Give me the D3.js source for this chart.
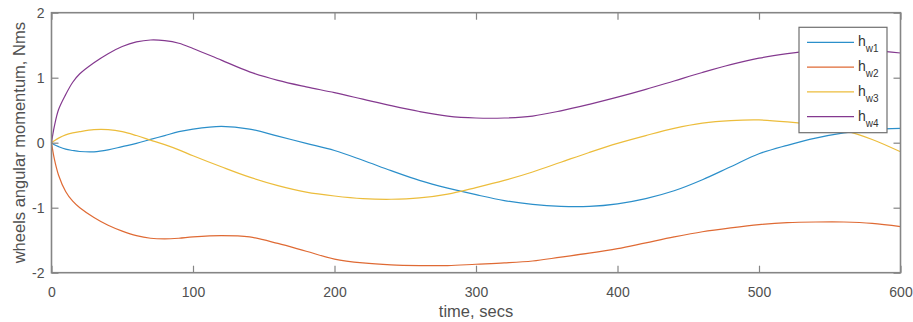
<!DOCTYPE html>
<html>
<head>
<meta charset="utf-8">
<script src="https://cdn.jsdelivr.net/npm/d3@7"></script>
<style>
  body { margin: 0; background: #fff; }
  svg { display: block; font-family: "Liberation Sans", Arial, sans-serif; }
</style>
</head>
<body>
<svg id="chart"></svg>
<script>
/* ---------- data ---------- */
const time = [0, 2, 5, 10, 15, 20, 30, 40, 50, 60, 70, 80, 90, 100, 120, 140, 160, 180, 200,
              220, 240, 260, 280, 300, 320, 340, 360, 380, 400, 420, 440, 460, 480, 500,
              520, 540, 560, 580, 600];

const hw1 = [0, -0.03, -0.06, -0.10, -0.12, -0.135, -0.14, -0.11, -0.06, -0.01, 0.05, 0.11, 0.17, 0.21,
             0.25, 0.21, 0.10, -0.01, -0.12, -0.27, -0.43, -0.58, -0.70, -0.80, -0.89, -0.95,
             -0.98, -0.98, -0.94, -0.86, -0.74, -0.57, -0.37, -0.17, -0.04, 0.07, 0.15, 0.20, 0.22];

const hw2 = [0, -0.25, -0.50, -0.75, -0.90, -1.00, -1.15, -1.27, -1.36, -1.43, -1.47, -1.48, -1.47, -1.45,
             -1.43, -1.45, -1.55, -1.67, -1.79, -1.85, -1.88, -1.89, -1.89, -1.87, -1.85, -1.82,
             -1.76, -1.70, -1.63, -1.54, -1.45, -1.37, -1.31, -1.26, -1.23, -1.22, -1.22, -1.24, -1.29];

const hw3 = [0, 0.03, 0.07, 0.12, 0.15, 0.17, 0.20, 0.20, 0.17, 0.11, 0.04, -0.03, -0.11, -0.20,
             -0.37, -0.53, -0.66, -0.76, -0.82, -0.86, -0.87, -0.85, -0.79, -0.69, -0.58, -0.45,
             -0.30, -0.15, -0.01, 0.11, 0.22, 0.30, 0.34, 0.35, 0.32, 0.27, 0.19, 0.05, -0.14];

const hw4 = [0, 0.25, 0.51, 0.74, 0.93, 1.06, 1.23, 1.37, 1.48, 1.55, 1.58, 1.57, 1.53, 1.45,
             1.27, 1.09, 0.96, 0.86, 0.77, 0.67, 0.57, 0.48, 0.41, 0.38, 0.38, 0.41,
             0.49, 0.59, 0.70, 0.82, 0.95, 1.08, 1.20, 1.30, 1.37, 1.42, 1.44, 1.42, 1.38];

const seriesNames = ["w1", "w2", "w3", "w4"];
const seriesValues = [hw1, hw2, hw3, hw4];
const xTicks = [0, 100, 200, 300, 400, 500, 600];
const yTicks = [-2, -1, 0, 1, 2];

/* ---------- setup ---------- */
const width = 913, height = 322;
const box = { left: 51.5, right: 900.5, top: 12.7, bottom: 272.7 };

const svg = d3.select("#chart").attr("width", width).attr("height", height);

const x = d3.scaleLinear().domain([0, 600]).range([box.left, box.right]);
const y = d3.scaleLinear().domain([-2, 2]).range([box.bottom, box.top]);

const color = d3.scaleOrdinal()
  .domain(seriesNames)
  .range(["#2b8fca", "#df6a34", "#ecbd3c", "#84398f"]);

const axisColor = "#858585", textColor = "#505050";

/* ---------- lines ---------- */
const line = d3.line()
  .x((d, i) => x(time[i]))
  .y(d => y(d))
  .curve(d3.curveCatmullRom.alpha(0.5));

svg.append("g").selectAll("path")
  .data(seriesValues).enter().append("path")
    .attr("fill", "none")
    .attr("stroke", (d, i) => color(seriesNames[i]))
    .attr("stroke-width", 1.2)
    .attr("d", line);

/* ---------- axes (inward ticks, box on) ---------- */
const fmt = d => String(d);

function styleAxis(g) {
  g.select(".domain").remove();
  g.selectAll(".tick line").attr("stroke", axisColor).attr("stroke-width", 1.2);
  g.selectAll(".tick text").attr("fill", textColor).attr("font-size", 14)
    .attr("font-family", "Liberation Sans, Arial, sans-serif");
}

svg.append("g")
  .attr("transform", `translate(0,${box.bottom})`)
  .call(d3.axisBottom(x).tickValues(xTicks).tickSize(-7).tickPadding(14).tickFormat(fmt))
  .call(styleAxis);

svg.append("g")
  .attr("transform", `translate(0,${box.top})`)
  .call(d3.axisTop(x).tickValues(xTicks).tickSize(-7).tickFormat(""))
  .call(styleAxis);

svg.append("g")
  .attr("transform", `translate(${box.left},0)`)
  .call(d3.axisLeft(y).tickValues(yTicks).tickSize(-7).tickPadding(7).tickFormat(fmt))
  .call(styleAxis);

svg.append("g")
  .attr("transform", `translate(${box.right},0)`)
  .call(d3.axisRight(y).tickValues(yTicks).tickSize(-7).tickFormat(""))
  .call(styleAxis);

svg.append("rect")
  .attr("x", box.left).attr("y", box.top)
  .attr("width", box.right - box.left).attr("height", box.bottom - box.top)
  .attr("fill", "none").attr("stroke", axisColor).attr("stroke-width", 1.6);

/* ---------- axis labels ---------- */
svg.append("text")
  .attr("x", (box.left + box.right) / 2).attr("y", 317)
  .attr("text-anchor", "middle").attr("font-size", 16.5).attr("fill", textColor)
  .text("time, secs");

svg.append("text")
  .attr("transform", `translate(25,${(box.top + box.bottom) / 2}) rotate(-90)`)
  .attr("text-anchor", "middle").attr("font-size", 16.5).attr("fill", textColor)
  .text("wheels angular momentum, Nms");

/* ---------- legend ---------- */
const legend = svg.append("g").attr("transform", "translate(799,27.3)");
legend.append("rect")
  .attr("width", 88).attr("height", 105.4)
  .attr("fill", "#fff").attr("stroke", "#6f6f6f").attr("stroke-width", 1.2);

const item = legend.selectAll("g.item").data(seriesNames).enter()
  .append("g").attr("class", "item")
  .attr("transform", (d, i) => `translate(0,${15 + i * 24.8})`);

item.append("line")
  .attr("x1", 8).attr("x2", 55)
  .attr("stroke", d => color(d)).attr("stroke-width", 1.3);

const label = item.append("text")
  .attr("x", 59).attr("y", 4)
  .attr("font-size", 14).attr("fill", "#333");
label.append("tspan").text("h");
label.append("tspan").attr("dy", 6).attr("font-size", 10).text(d => d);
</script>
</body>
</html>
